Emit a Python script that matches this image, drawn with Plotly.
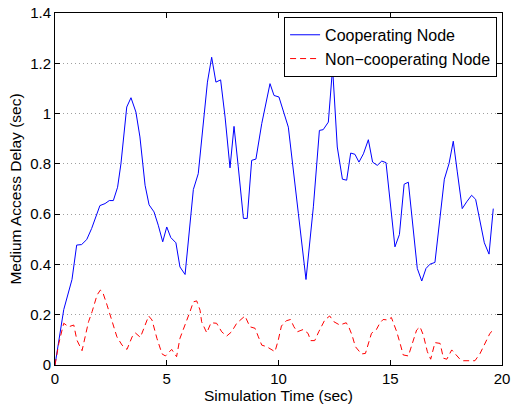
import plotly.graph_objects as go

# Cooperating node: medium access delay over simulation time
coop_time = [0, 0.39, 0.76, 0.97, 1.19, 1.42, 1.64, 2.01, 2.24, 2.43, 2.61, 2.80, 2.95,
             3.21, 3.40, 3.62, 3.80, 4.03, 4.21, 4.43, 4.62, 4.82, 5.0, 5.18, 5.41,
             5.59, 5.82, 6.19, 6.41, 6.64, 6.82, 7.01, 7.2, 7.41, 7.61, 7.83, 8.01,
             8.2, 8.43, 8.6, 8.8, 8.99, 9.25, 9.62, 9.8, 10.02, 10.22, 10.44, 10.89,
             11.23, 11.56, 11.83, 12.0, 12.23, 12.42, 12.63, 12.86, 13.05, 13.23,
             13.42, 13.6, 13.8, 14.02, 14.21, 14.42, 14.62, 14.81, 15.02, 15.21,
             15.41, 15.62, 15.81, 16.0, 16.21, 16.41, 16.6, 16.78, 17.0, 17.23,
             17.42, 17.63, 17.82, 18.0, 18.22, 18.42, 18.64, 18.82, 19.02, 19.21,
             19.42, 19.61]
coop_delay = [0, 0.22, 0.34, 0.477, 0.479, 0.499, 0.543, 0.634, 0.642, 0.654, 0.654,
              0.707, 0.80, 1.026, 1.063, 1.006, 0.907, 0.715, 0.637, 0.609, 0.556,
              0.49, 0.549, 0.507, 0.486, 0.39, 0.36, 0.698, 0.761, 0.96, 1.125, 1.224,
              1.125, 1.134, 0.986, 0.784, 0.949, 0.788, 0.583, 0.583, 0.814, 0.819,
              0.96, 1.119, 1.072, 1.066, 1.013, 0.946, 0.602, 0.34, 0.629, 0.933,
              0.936, 0.966, 1.182, 0.867, 0.739, 0.735, 0.843, 0.838, 0.807, 0.84,
              0.896, 0.807, 0.794, 0.811, 0.805, 0.629, 0.47, 0.519, 0.719, 0.727,
              0.549, 0.384, 0.334, 0.384, 0.401, 0.408, 0.589, 0.739, 0.801, 0.89,
              0.768, 0.622, 0.649, 0.675, 0.659, 0.576, 0.486, 0.441, 0.622]

# Non-cooperating node
noncoop_time = [0, 0.17, 0.39, 0.61, 0.84, 0.98, 1.21, 1.36, 1.5, 1.66, 1.88, 2.03,
                2.13, 2.33, 2.55, 2.77, 3.0, 3.22, 3.45, 3.59, 3.82, 4.04, 4.19, 4.34,
                4.56, 4.79, 4.94, 5.22, 5.44, 5.59, 5.74, 5.89, 6.04, 6.19, 6.34,
                6.49, 6.56, 6.79, 6.98, 7.23, 7.46, 7.68, 7.9, 8.13, 8.43, 8.5, 8.72,
                8.95, 9.1, 9.25, 9.47, 9.7, 9.84, 9.99, 10.13, 10.35, 10.54, 10.69,
                10.84, 11.1, 11.32, 11.44, 11.62, 11.8, 12.07, 12.29, 12.48, 12.74,
                13.03, 13.15, 13.29, 13.44, 13.71, 13.89, 14.01, 14.16, 14.38, 14.53,
                14.68, 14.9, 15.05, 15.29, 15.44, 15.58, 15.81, 16.03, 16.18, 16.33,
                16.48, 16.66, 16.81, 17.0, 17.23, 17.38, 17.53, 17.75, 17.9, 18.12,
                18.27, 18.79, 19.02, 19.24, 19.46, 19.61]
noncoop_delay = [0, 0.086, 0.166, 0.152, 0.159, 0.099, 0.057, 0.112, 0.172, 0.212,
                 0.278, 0.298, 0.291, 0.238, 0.172, 0.112, 0.079, 0.062, 0.112, 0.128,
                 0.11, 0.159, 0.195, 0.179, 0.106, 0.044, 0.036, 0.062, 0.033, 0.106,
                 0.139, 0.172, 0.212, 0.251, 0.255, 0.218, 0.172, 0.128, 0.168, 0.166,
                 0.132, 0.115, 0.132, 0.166, 0.192, 0.195, 0.152, 0.146, 0.112, 0.079,
                 0.073, 0.06, 0.053, 0.099, 0.155, 0.176, 0.181, 0.152, 0.132, 0.141,
                 0.126, 0.097, 0.097, 0.132, 0.179, 0.195, 0.172, 0.159, 0.168, 0.15,
                 0.119, 0.073, 0.044, 0.046, 0.086, 0.126, 0.141, 0.166, 0.181, 0.179,
                 0.189, 0.132, 0.086, 0.04, 0.036, 0.093, 0.139, 0.152, 0.119, 0.053,
                 0.023, 0.089, 0.086, 0.027, 0.023, 0.06, 0.046, 0.023, 0.017, 0.017,
                 0.046, 0.086, 0.126, 0.139]

x_ticks = [0, 5, 10, 15, 20]
y_ticks = [0, 0.2, 0.4, 0.6, 0.8, 1.0, 1.2, 1.4]
y_tick_text = ["0", "0.2", "0.4", "0.6", "0.8", "1", "1.2", "1.4"]

font_family = "Liberation Sans, Arial, Helvetica, sans-serif"

fig = go.Figure()
fig.add_trace(go.Scatter(
    x=coop_time, y=coop_delay, mode="lines", name="Cooperating Node",
    line=dict(color="#0000ff", width=1),
))
fig.add_trace(go.Scatter(
    x=noncoop_time, y=noncoop_delay, mode="lines", name="Non\u2212cooperating Node",
    line=dict(color="#ff0000", width=1, dash="6px,4px"),
))

axis_common = dict(
    showline=True, linecolor="black", linewidth=1, mirror="ticks",
    ticks="inside", ticklen=5, tickcolor="black", tickwidth=1,
    zeroline=False, automargin=False,
    tickfont=dict(family=font_family, size=15, color="black"),
)

fig.update_xaxes(
    range=[0, 20], tickvals=x_ticks, showgrid=False,
    title=dict(text="Simulation Time (sec)", standoff=2,
               font=dict(family=font_family, size=15.5, color="black")),
    **axis_common,
)
fig.update_yaxes(
    range=[0, 1.4], tickvals=y_ticks, ticktext=y_tick_text,
    showgrid=True, gridcolor="#a0a0a0", griddash="1px,3px", gridwidth=1,
    title=dict(text="Medium Access Delay (sec)", standoff=4,
               font=dict(family=font_family, size=15.5, color="black")),
    **axis_common,
)

fig.update_layout(
    width=515, height=405,
    margin=dict(l=55, r=13, t=13, b=40, autoexpand=False),
    paper_bgcolor="white", plot_bgcolor="white",
    font=dict(family=font_family, size=15, color="black"),
    showlegend=True,
    legend=dict(
        x=0.989, y=0.989, xanchor="right", yanchor="top",
        bgcolor="white", bordercolor="black", borderwidth=1,
        font=dict(family=font_family, size=16, color="black"),
        tracegroupgap=0, itemwidth=30,
    ),
)

fig.write_html("out.html")
